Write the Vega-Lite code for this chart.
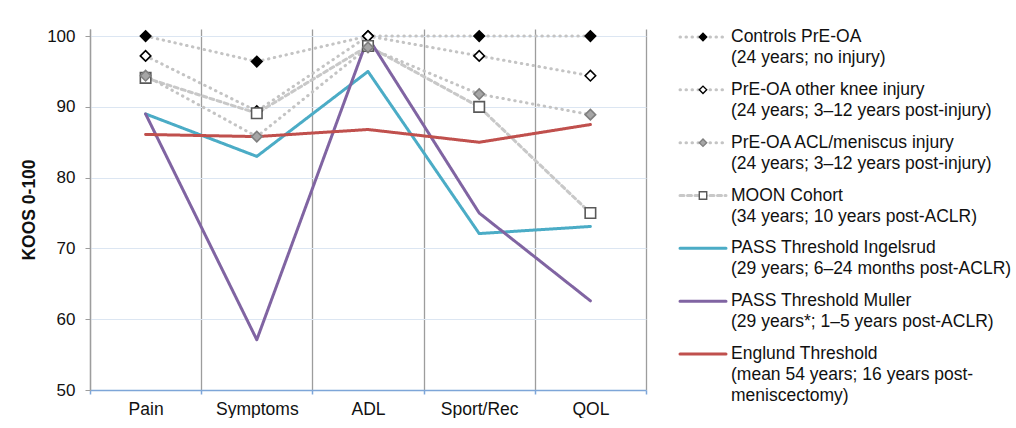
{
  "$schema": "https://vega.github.io/schema/vega-lite/v6.json",
  "padding": {"left": 20, "top": 27, "right": 0, "bottom": 0},
  "background": "white",
  "config": {
    "font": "Liberation Sans",
    "view": {"stroke": null},
    "concat": {"spacing": 31},
    "axis": {"labelColor": "#111111", "titleColor": "#111111"}
  },
  "datasets": {
    "koos": [
      {"series": "Controls PrE-OA", "domain": "Pain", "score": 100},
      {"series": "Controls PrE-OA", "domain": "Symptoms", "score": 96.4},
      {"series": "Controls PrE-OA", "domain": "ADL", "score": 100},
      {"series": "Controls PrE-OA", "domain": "Sport/Rec", "score": 100},
      {"series": "Controls PrE-OA", "domain": "QOL", "score": 100},
      {"series": "PrE-OA other knee injury", "domain": "Pain", "score": 97.2},
      {"series": "PrE-OA other knee injury", "domain": "Symptoms", "score": 89.4},
      {"series": "PrE-OA other knee injury", "domain": "ADL", "score": 100},
      {"series": "PrE-OA other knee injury", "domain": "Sport/Rec", "score": 97.2},
      {"series": "PrE-OA other knee injury", "domain": "QOL", "score": 94.4},
      {"series": "MOON Cohort", "domain": "Pain", "score": 94.1},
      {"series": "MOON Cohort", "domain": "Symptoms", "score": 89.1},
      {"series": "MOON Cohort", "domain": "ADL", "score": 98.6},
      {"series": "MOON Cohort", "domain": "Sport/Rec", "score": 90},
      {"series": "MOON Cohort", "domain": "QOL", "score": 75},
      {"series": "PrE-OA ACL/meniscus injury", "domain": "Pain", "score": 94.4},
      {"series": "PrE-OA ACL/meniscus injury", "domain": "Symptoms", "score": 85.8},
      {"series": "PrE-OA ACL/meniscus injury", "domain": "ADL", "score": 98.4},
      {"series": "PrE-OA ACL/meniscus injury", "domain": "Sport/Rec", "score": 91.8},
      {"series": "PrE-OA ACL/meniscus injury", "domain": "QOL", "score": 88.9},
      {"series": "PASS Threshold Ingelsrud", "domain": "Pain", "score": 89},
      {"series": "PASS Threshold Ingelsrud", "domain": "Symptoms", "score": 83},
      {"series": "PASS Threshold Ingelsrud", "domain": "ADL", "score": 95},
      {"series": "PASS Threshold Ingelsrud", "domain": "Sport/Rec", "score": 72.1},
      {"series": "PASS Threshold Ingelsrud", "domain": "QOL", "score": 73.1},
      {"series": "PASS Threshold Muller", "domain": "Pain", "score": 89},
      {"series": "PASS Threshold Muller", "domain": "Symptoms", "score": 57.1},
      {"series": "PASS Threshold Muller", "domain": "ADL", "score": 99.8},
      {"series": "PASS Threshold Muller", "domain": "Sport/Rec", "score": 75},
      {"series": "PASS Threshold Muller", "domain": "QOL", "score": 62.6},
      {"series": "Englund Threshold", "domain": "Pain", "score": 86.1},
      {"series": "Englund Threshold", "domain": "Symptoms", "score": 85.8},
      {"series": "Englund Threshold", "domain": "ADL", "score": 86.8},
      {"series": "Englund Threshold", "domain": "Sport/Rec", "score": 85},
      {"series": "Englund Threshold", "domain": "QOL", "score": 87.5}
    ],
    "legend": [
      {"series": "Controls PrE-OA", "label": "Controls PrE-OA\n(24 years; no injury)"},
      {"series": "PrE-OA other knee injury", "label": "PrE-OA other knee injury\n(24 years; 3–12 years post-injury)"},
      {"series": "PrE-OA ACL/meniscus injury", "label": "PrE-OA ACL/meniscus injury\n(24 years; 3–12 years post-injury)"},
      {"series": "MOON Cohort", "label": "MOON Cohort\n(34 years; 10 years post-ACLR)"},
      {"series": "PASS Threshold Ingelsrud", "label": "PASS Threshold Ingelsrud\n(29 years; 6–24 months post-ACLR)"},
      {"series": "PASS Threshold Muller", "label": "PASS Threshold Muller\n(29 years*; 1–5 years post-ACLR)"},
      {"series": "Englund Threshold", "label": "Englund Threshold\n(mean 54 years; 16 years post-\nmeniscectomy)"}
    ]
  },
  "hconcat": [
    {
      "width": 556,
      "height": 361,
      "data": {"name": "koos"},
      "encoding": {
        "x": {
          "field": "domain",
          "type": "nominal",
          "sort": ["Pain", "Symptoms", "ADL", "Sport/Rec", "QOL"],
          "scale": {"type": "band", "paddingInner": 0, "paddingOuter": 0},
          "axis": {
            "title": null,
            "labelAngle": 0,
            "labelFontSize": 17.5,
            "labelPadding": 6,
            "tickBand": "extent",
            "grid": true,
            "gridColor": "#9d9d9d",
            "gridWidth": 1.3,
            "domainColor": "#7ea6d8",
            "domainWidth": 1.5,
            "tickColor": "#7ea6d8",
            "tickWidth": 1.5,
            "tickSize": 4
          }
        },
        "y": {
          "field": "score",
          "type": "quantitative",
          "scale": {"domain": [50, 101], "nice": false, "zero": false},
          "axis": {
            "title": "KOOS 0-100",
            "titleFontSize": 17.5,
            "titleFontWeight": "bold",
            "titlePadding": 8,
            "values": [50, 60, 70, 80, 90, 100],
            "labelFontSize": 17,
            "labelPadding": 10,
            "grid": true,
            "gridColor": "#dce6f2",
            "gridWidth": 1.2,
            "domainColor": "#9d9d9d",
            "domainWidth": 1.3,
            "tickColor": "#9d9d9d",
            "tickSize": 5
          }
        }
      },
      "layer": [
        {
          "mark": {"type": "line", "strokeCap": "round", "strokeJoin": "round"},
          "encoding": {
            "color": {
              "field": "series", "type": "nominal", "legend": null,
              "scale": {
                "domain": ["Controls PrE-OA", "PrE-OA other knee injury", "PrE-OA ACL/meniscus injury", "MOON Cohort", "PASS Threshold Ingelsrud", "PASS Threshold Muller", "Englund Threshold"],
                "range": ["#c4c4c4", "#c4c4c4", "#c4c4c4", "#c8c8c8", "#4bacc6", "#8064a2", "#c0504d"]
              }
            },
            "strokeDash": {
              "field": "series", "type": "nominal", "legend": null,
              "scale": {
                "domain": ["Controls PrE-OA", "PrE-OA other knee injury", "PrE-OA ACL/meniscus injury", "MOON Cohort", "PASS Threshold Ingelsrud", "PASS Threshold Muller", "Englund Threshold"],
                "range": [[0.5, 5.5], [0.5, 5.5], [0.5, 5.5], [4, 3.5], [1, 0], [1, 0], [1, 0]]
              }
            },
            "strokeWidth": {
              "field": "series", "type": "nominal", "legend": null,
              "scale": {
                "domain": ["Controls PrE-OA", "PrE-OA other knee injury", "PrE-OA ACL/meniscus injury", "MOON Cohort", "PASS Threshold Ingelsrud", "PASS Threshold Muller", "Englund Threshold"],
                "range": [3, 3, 3, 1.3, 2.8, 2.8, 2.8]
              }
            }
          }
        },
        {
          "transform": [{"filter": {"field": "series", "oneOf": ["Controls PrE-OA", "PrE-OA other knee injury", "PrE-OA ACL/meniscus injury", "MOON Cohort"]}}],
          "mark": {"type": "point", "filled": true, "strokeWidth": 1.6, "opacity": 1},
          "encoding": {
            "shape": {
              "field": "series", "type": "nominal", "legend": null,
              "scale": {"domain": ["Controls PrE-OA", "PrE-OA other knee injury", "PrE-OA ACL/meniscus injury", "MOON Cohort"], "range": ["diamond", "diamond", "diamond", "square"]}
            },
            "fill": {
              "field": "series", "type": "nominal", "legend": null,
              "scale": {"domain": ["Controls PrE-OA", "PrE-OA other knee injury", "PrE-OA ACL/meniscus injury", "MOON Cohort"], "range": ["#000000", "#ffffff", "#a6a6a6", "#ffffff"]}
            },
            "stroke": {
              "field": "series", "type": "nominal", "legend": null,
              "scale": {"domain": ["Controls PrE-OA", "PrE-OA other knee injury", "PrE-OA ACL/meniscus injury", "MOON Cohort"], "range": ["#000000", "#000000", "#7f7f7f", "#595959"]}
            },
            "size": {
              "field": "series", "type": "nominal", "legend": null,
              "scale": {"domain": ["Controls PrE-OA", "PrE-OA other knee injury", "PrE-OA ACL/meniscus injury", "MOON Cohort"], "range": [110, 110, 110, 70]}
            }
          }
        }
      ]
    },
    {
      "width": 330,
      "height": 361,
      "data": {"name": "legend"},
      "encoding": {
        "y": {
          "field": "series", "type": "nominal", "axis": null,
          "sort": ["Controls PrE-OA", "PrE-OA other knee injury", "PrE-OA ACL/meniscus injury", "MOON Cohort", "PASS Threshold Ingelsrud", "PASS Threshold Muller", "Englund Threshold"],
          "scale": {"type": "point", "padding": 0, "range": [8, 325]}
        }
      },
      "layer": [
        {
          "mark": {"type": "rule", "strokeCap": "round"},
          "encoding": {
            "x": {"datum": 0, "type": "quantitative", "scale": {"domain": [0, 330], "nice": false, "zero": false}, "axis": null},
            "x2": {"datum": 46},
            "color": {"field": "series", "type": "nominal", "legend": null},
            "strokeDash": {"field": "series", "type": "nominal", "legend": null},
            "strokeWidth": {"field": "series", "type": "nominal", "legend": null}
          }
        },
        {
          "transform": [{"filter": {"field": "series", "oneOf": ["Controls PrE-OA", "PrE-OA other knee injury", "PrE-OA ACL/meniscus injury", "MOON Cohort"]}}],
          "mark": {"type": "point", "filled": true, "strokeWidth": 1.4, "opacity": 1},
          "encoding": {
            "x": {"datum": 23, "type": "quantitative"},
            "shape": {"field": "series", "type": "nominal", "legend": null},
            "fill": {"field": "series", "type": "nominal", "legend": null},
            "stroke": {"field": "series", "type": "nominal", "legend": null},
            "size": {"value": 55}
          }
        },
        {
          "mark": {"type": "text", "align": "left", "baseline": "middle", "fontSize": 17.5, "lineBreak": "\n", "lineHeight": 21, "color": "#111111"},
          "encoding": {
            "x": {"datum": 51, "type": "quantitative"},
            "text": {"field": "label"}
          }
        }
      ]
    }
  ]
}
